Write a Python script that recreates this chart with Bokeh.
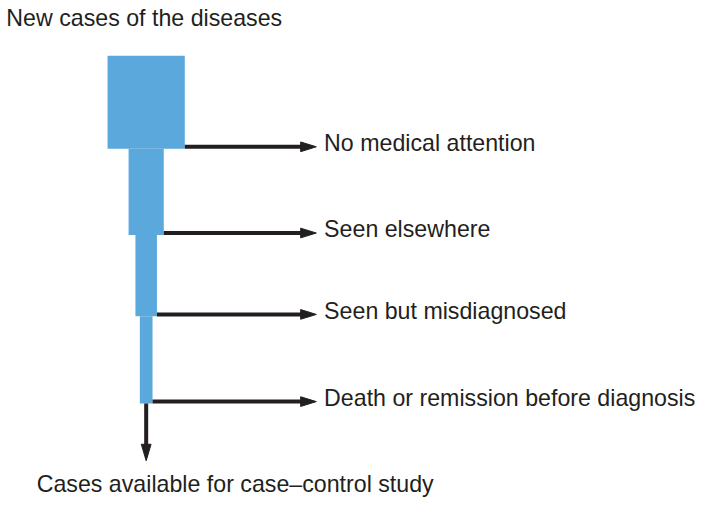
from bokeh.plotting import figure
from bokeh.models import Range1d
from bokeh.core.properties import value
from bokeh.embed import file_html
from bokeh.resources import INLINE

# ---- data ----
title_text = "New cases of the diseases"
final_text = "Cases available for case\u2013control study"
stages = ["No medical attention", "Seen elsewhere", "Seen but misdiagnosed",
          "Death or remission before diagnosis"]
# relative number of cases remaining (bar width) for each stage
remaining = [79, 36, 22, 13]
# stage boundaries along the flow (top of first box, then bottom of each box)
stage_bounds = [57, 153, 242, 326, 416]

# ---- style / layout ----
W, H = 702, 498
BLUE = "#5ba8dc"
INK = "#231f20"
FONT = "Liberation Sans"
FS = "23.2px"
CX = 149          # flow centre
ARROW_TIP = 323   # x of horizontal arrow tips
HEAD_L, HEAD_HW = 16, 5
LW = 4
LABEL_X = 331
TXT_SHIFT = -9    # compensation for svg text baseline placement

p = figure(width=W, height=H, output_backend="svg", toolbar_location=None,
           x_range=Range1d(0, 718), y_range=Range1d(514, 0),
           min_border=0, outline_line_color=None, background_fill_color="white",
           border_fill_color="white")
p.axis.visible = False
p.grid.visible = False

n = len(stages)
left = [CX - w / 2 for w in remaining]
right = [CX + w / 2 for w in remaining]
top = stage_bounds[:-1]
bottom = stage_bounds[1:]

p.quad(left=left, right=right, top=top, bottom=bottom,
       fill_color=BLUE, line_color=None)

# horizontal arrows
ay = [b - LW / 2 for b in bottom]
p.segment(x0=right, y0=ay, x1=[ARROW_TIP - HEAD_L + 2] * n, y1=ay,
          line_color=INK, line_width=LW)
p.patches(xs=[[ARROW_TIP, ARROW_TIP - HEAD_L, ARROW_TIP - HEAD_L] for _ in ay],
          ys=[[y, y - HEAD_HW, y + HEAD_HW] for y in ay],
          fill_color=INK, line_color=INK, line_width=1)

# vertical arrow
v_tip = stage_bounds[-1] + 59
p.segment(x0=[CX], y0=[stage_bounds[-1]], x1=[CX], y1=[v_tip - 15],
          line_color=INK, line_width=LW)
p.patches(xs=[[CX, CX - HEAD_HW, CX + HEAD_HW]],
          ys=[[v_tip, v_tip - 17, v_tip - 17]],
          fill_color=INK, line_color=INK, line_width=1)

# labels
p.text(x=[LABEL_X] * n, y=[y + 5 + TXT_SHIFT for y in ay], text=stages,
       text_font=value(FONT), text_font_size=FS, text_color=INK,
       text_baseline="alphabetic", text_align="left")
p.text(x=[6], y=[27 + TXT_SHIFT], text=[title_text],
       text_font=value(FONT), text_font_size=FS, text_color=INK,
       text_baseline="alphabetic", text_align="left")
p.text(x=[37], y=[508 + TXT_SHIFT], text=[final_text],
       text_font=value(FONT), text_font_size=FS, text_color=INK,
       text_baseline="alphabetic", text_align="left")

open("out.html", "w").write(file_html(p, INLINE))
